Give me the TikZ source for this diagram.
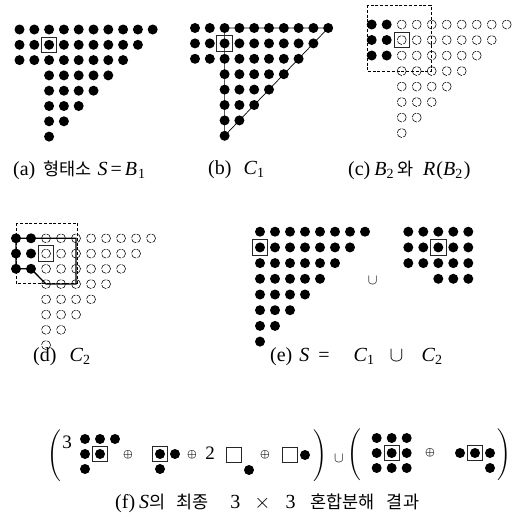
\documentclass[tikz,border=0pt]{standalone}
\usepackage{amsmath}
\usepackage{fontspec}
\setmainfont{Liberation Serif}
\newfontfamily\kr{Noto Sans CJK KR}
\newcommand\krt[1]{{\kr\fontsize{17.5}{20}\selectfont #1}}
\newcommand\bigpl{{\fontsize{16.5}{19}\selectfont$\Bigg($}}
\newcommand\bigpr{{\fontsize{16.5}{19}\selectfont$\Bigg)$}}
\begin{document}
\begin{tikzpicture}[x=1pt,y=-1pt,
  dotf/.style={circle,fill=black,draw=none,inner sep=0pt,minimum size=10pt},
  doto/.style={circle,draw=black,line width=0.55pt,dash pattern=on 6.2pt off 1.2pt,inner sep=0pt,minimum size=9pt},
  obox/.style={rectangle,draw=black!85,line width=0.9pt,inner sep=0pt,minimum size=15.5pt},
  winbox/.style={draw=black,line width=1pt,dash pattern=on 3pt off 1.8pt},
  edgeb/.style={draw=black,line width=0.7pt},
  edged/.style={draw=black,line width=1.3pt},
  captxt/.style={inner sep=0pt,anchor=west,font=\fontsize{20}{22}\selectfont},
  symop/.style={inner sep=0pt,font=\fontsize{11}{12}\selectfont\boldmath},
  numtxt/.style={inner sep=0pt,font=\fontsize{19}{20}\selectfont},
  parnode/.style={inner sep=0pt}]
\useasboundingbox (0,0) rectangle (516,517);
\fill[white] (0,0) rectangle (516,517);

% ---------- (a) ----------
\foreach \r in {1,...,8}{
  \pgfmathtruncatemacro\last{10-\r}
  \pgfmathtruncatemacro\first{\r<4?0:2}
  \foreach \c in {\first,...,\last}{
    \node[dotf] (a-\c-\r) at ({19.5+14.8*\c},{29.5+15.3*(\r-1)}) {};
  }
}
\node[obox] (a-box) at (a-2-2) {};
\node[captxt] (a-cap) at (13,170) {(a)\hspace{8pt}\krt{형태소}\hspace{6pt}\textit{S}\hspace{3pt}=\hspace{3pt}\textit{B}\hspace{1pt}\textsubscript{1}};

% ---------- (b) ----------
\foreach \r in {1,...,8}{
  \pgfmathtruncatemacro\last{10-\r}
  \pgfmathtruncatemacro\first{\r<4?0:2}
  \foreach \c in {\first,...,\last}{
    \node[dotf] (b-\c-\r) at ({195+14.8*\c},{28+15.4*(\r-1)}) {};
  }
}
\draw[edgeb] (b-2-1.center) -- (b-9-1.center) -- (b-2-8.center) -- cycle;
\node[obox] (b-box) at (b-2-2) {};
\node[captxt] (b-cap) at (208,170) {(b)\hspace{12pt}\textit{C}\textsubscript{1}};

% ---------- (c) ----------
\foreach \r in {1,...,8}{
  \pgfmathtruncatemacro\last{10-\r}
  \pgfmathtruncatemacro\first{\r<4?0:2}
  \foreach \c in {\first,...,\last}{
    \ifnum\c<2
      \node[dotf] (c-\c-\r) at ({371.7+15*\c},{24.5+15.5*(\r-1)}) {};
    \else
      \node[doto] (c-\c-\r) at ({371.7+15*\c},{24.5+15.5*(\r-1)}) {};
    \fi
  }
}
\coordinate (c-w1) at (367,5);
\coordinate (c-w2) at (431,71.5);
\draw[winbox] (c-w1) rectangle (c-w2);
\node[obox] (c-box) at (c-2-2) {};
\node[captxt] (c-cap) at (348,170) {(c)\hspace{4pt}\textit{B}\textsubscript{2}\hspace{3pt}\krt{와}\hspace{10pt}\textit{R}\hspace{1pt}(\textit{B}\textsubscript{2}\hspace{1pt})};

% ---------- (d) ----------
\foreach \r in {1,...,8}{
  \pgfmathtruncatemacro\last{10-\r}
  \pgfmathtruncatemacro\first{\r<4?0:2}
  \foreach \c in {\first,...,\last}{
    \ifnum\c<2
      \node[dotf] (d-\c-\r) at ({16+15*\c},{238.3+15.25*(\r-1)}) {};
    \else
      \node[doto] (d-\c-\r) at ({16+15*\c},{238.3+15.25*(\r-1)}) {};
    \fi
  }
}
\coordinate (d-w1) at (16,223);
\coordinate (d-w2) at (77,283);
\draw[winbox] (d-w1) rectangle (d-w2);
\draw[edged] (d-0-1.center) -- (d-4-1.center) -- (d-4-4.center) -- (d-2-4.center)
  -- (d-1-3.center) -- (d-0-3.center) -- cycle;
\node[obox] (d-box) at (d-2-2) {};
\node[captxt] (d-cap) at (33,357) {(d)\hspace{13pt}\textit{C}\textsubscript{2}};

% ---------- (e) ----------
\foreach \r in {1,...,8}{
  \pgfmathtruncatemacro\last{8-\r}
  \foreach \c in {0,...,\last}{
    \node[dotf] (eL-\c-\r) at ({260+15*\c},{231.7+15.7*(\r-1)}) {};
  }
}
\node[obox] (eL-box) at (eL-0-2) {};
\foreach \r in {1,2,3}{
  \foreach \c in {0,...,4}{
    \node[dotf] (eR-\c-\r) at ({408.3+15*\c},{231.7+15.7*(\r-1)}) {};
  }
}
\foreach \c in {2,3,4}{
  \node[dotf] (eR-\c-4) at ({408.3+15*\c},{231.7+15.7*3}) {};
}
\node[obox] (eR-box) at (eR-2-2) {};
\node[inner sep=0pt,font=\fontsize{14}{15}\selectfont] (e-cup) at (372.7,280) {$\cup$};
\node[captxt] (e-cap) at (270,357) {(e)\hspace{7pt}\textit{S}\hspace{9pt}=\hspace{24pt}\textit{C}\textsubscript{1}\hspace{15pt}$\cup$\hspace{18pt}\textit{C}\textsubscript{2}};

% ---------- (f) ----------
\node[parnode] (f-lp1) at (54,456) {\bigpl};
\node[numtxt] (f-n3) at (67,442) {3};
% element 1
\node[dotf] (f1-00) at (85,439) {};
\node[dotf] (f1-10) at (100,439) {};
\node[dotf] (f1-20) at (115,439) {};
\node[dotf] (f1-01) at (85,454) {};
\node[dotf] (f1-11) at (100,454) {};
\node[dotf] (f1-02) at (85,469) {};
\node[obox] (f1-box) at (f1-11) {};
\node[symop] (f-op1) at (128,455) {$\oplus$};
% element 2
\node[dotf] (f2-00) at (160,454) {};
\node[dotf] (f2-10) at (175,454) {};
\node[dotf] (f2-01) at (160,469) {};
\node[obox] (f2-box) at (f2-00) {};
\node[symop] (f-op2) at (192,455) {$\oplus$};
\node[numtxt] (f-n2) at (210,453) {2};
% element 3
\node[obox] (f3-box) at (234,455) {};
\node[dotf] (f3-11) at (249,470) {};
\node[symop] (f-op3) at (265,455) {$\oplus$};
% element 4
\node[obox] (f4-box) at (290,455) {};
\node[dotf] (f4-10) at (305,455) {};
\node[parnode] (f-rp1) at (320,456) {\bigpr};
\node[inner sep=0pt,font=\fontsize{14}{15}\selectfont] (f-cup) at (339,458) {$\cup$};
\node[parnode] (f-lp2) at (354,455) {\bigpl};
% element 5
\foreach \c in {0,1,2}{
  \foreach \r in {0,1,2}{
    \node[dotf] (f5-\c\r) at ({376.7+15*\c},{438+15*\r}) {};
  }
}
\node[obox] (f5-box) at (f5-11) {};
\node[symop] (f-op4) at (430,453) {$\oplus$};
% element 6
\node[dotf] (f6-00) at (460,453) {};
\node[dotf] (f6-10) at (475,453) {};
\node[dotf] (f6-20) at (490,453) {};
\node[dotf] (f6-21) at (490,468) {};
\node[obox] (f6-box) at (f6-10) {};
\node[parnode] (f-rp2) at (504,455) {\bigpr};
\node[captxt] (f-cap) at (115,503)
  {(f)\hspace{4pt}\textit{S}\krt{의}\hspace{11pt}\krt{최종}\hspace{22pt}3\hspace{14pt}$\times$\hspace{15pt}3\hspace{15pt}\krt{혼합분해}\hspace{12pt}\krt{결과}};
\end{tikzpicture}
\end{document}
